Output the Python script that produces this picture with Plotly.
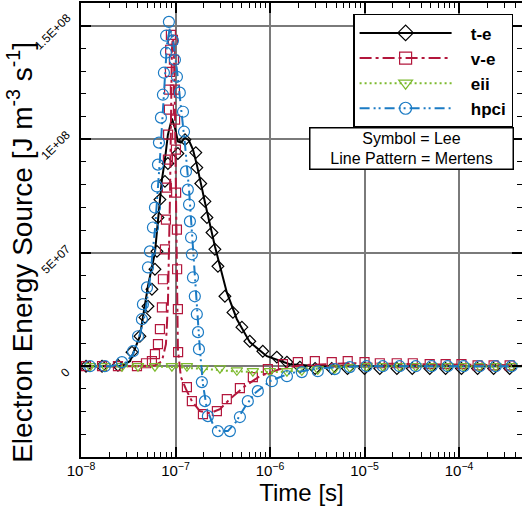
import plotly.graph_objects as go

# ---------------- data ----------------
series_names = ["t-e", "v-e", "eii", "hpci"]

# Mertens (lines)
te_line_t = [1.0e-8, 2.03e-8, 2.58e-8, 3.30e-8, 4.20e-8, 5.11e-8, 6.06e-8, 7.18e-8, 7.73e-8, 8.31e-8, 9.16e-8,
             9.86e-8, 1.06e-7, 1.14e-7, 1.26e-7, 1.39e-7, 1.53e-7, 1.68e-7, 1.81e-7, 2.05e-7, 2.61e-7, 3.49e-7,
             4.46e-7, 6.11e-7, 9.25e-7, 1.62e-6, 3.36e-6, 4.59e-4]
te_line_y = [0, 0, 0, 0.22e7, 1.32e7, 3.52e7, 5.01e7, 8.22e7, 9.10e7, 10.2e7, 10.91e7,
             10.5e7, 9.9e7, 9.85e7, 10.07e7, 9.94e7, 9.54e7, 8.88e7, 8.22e7, 7.21e7, 5.28e7, 3.25e7,
             2.07e7, 1.06e7, 0.44e7, 0.09e7, 0, 0]

ve_line_t = [1.0e-8, 4.20e-8, 6.06e-8, 7.18e-8, 7.92e-8, 8.31e-8, 8.73e-8, 8.94e-8, 9.16e-8, 9.39e-8, 9.62e-8,
             9.86e-8, 1.01e-7, 1.035e-7, 1.06e-7, 1.14e-7, 1.29e-7, 1.49e-7, 1.81e-7, 2.31e-7, 2.95e-7, 3.76e-7,
             5.42e-7, 7.80e-7, 1.27e-6, 2.07e-6, 6.98e-6, 3.84e-5, 4.59e-4]
ve_line_y = [0, 0, 0.04e7, 0.22e7, 0.97e7, 2.73e7, 7.34e7, 11.30e7, 13.94e7, 14.60e7, 13.94e7,
             11.30e7, 7.34e7, 3.39e7, 0.75e7, -0.48e7, -1.01e7, -1.54e7, -1.98e7, -2.07e7, -1.89e7, -1.45e7,
             -0.88e7, -0.44e7, -0.13e7, 0.04e7, 0.13e7, 0.09e7, 0.04e7]

eii_line_t = [1.0e-8, 5.0e-8, 1.0e-7, 1.5e-7, 2.5e-7, 4.0e-7, 7.0e-7, 1.2e-6, 2.0e-6, 3.5e-6, 6.0e-6, 1.0e-5, 4.59e-4]
eii_line_y = [0, 0, -0.04e7, -0.08e7, -0.15e7, -0.22e7, -0.26e7, -0.26e7, -0.20e7, -0.09e7, -0.02e7, 0, 0]

hp_line_t = [1.0e-8, 2.03e-8, 2.92e-8, 3.55e-8, 4.20e-8, 4.75e-8, 5.36e-8, 6.06e-8, 6.84e-8, 7.54e-8, 8.11e-8,
             8.73e-8, 9.39e-8, 1.035e-7, 1.14e-7, 1.26e-7, 1.39e-7, 1.53e-7, 1.68e-7, 1.81e-7, 1.95e-7, 2.15e-7,
             2.48e-7, 2.95e-7, 3.58e-7, 4.35e-7, 5.42e-7, 6.90e-7, 9.95e-7, 1.62e-6, 3.36e-6, 8.89e-6, 4.59e-4]
hp_line_y = [0, 0, 0.13e7, 0.53e7, 1.41e7, 2.29e7, 3.83e7, 6.02e7, 9.10e7, 12.18e7, 14.16e7,
             14.91e7, 14.38e7, 13.06e7, 11.52e7, 9.76e7, 7.78e7, 5.15e7, 2.51e7, 0.75e7, -0.79e7, -1.89e7,
             -2.55e7, -2.86e7, -2.86e7, -2.46e7, -1.80e7, -1.19e7, -0.66e7, -0.31e7, -0.09e7, 0, 0]

# Lee (symbols)
te_sym_t = [1.13e-8, 1.67e-8, 2.46e-8, 3.46e-8, 4.20e-8, 4.75e-8, 5.11e-8, 5.63e-8, 6.06e-8, 6.36e-8, 6.52e-8,
            6.84e-8, 7.73e-8, 8.31e-8, 1.06e-7, 1.26e-7, 1.64e-7, 1.68e-7, 1.85e-7, 2.05e-7, 2.15e-7, 2.43e-7,
            2.61e-7, 2.81e-7, 3.33e-7, 4.05e-7, 5.04e-7, 6.11e-7, 8.39e-7, 1.18e-6, 1.51e-6, 2.07e-6, 3.0e-6,
            4.5e-6, 6.6e-6, 1.0e-5, 1.45e-5, 2.2e-5, 3.2e-5, 4.9e-5, 7.2e-5, 1.06e-4, 1.57e-4, 2.32e-4, 3.43e-4]
te_sym_y = [0, 0, 0.04e7, 0.62e7, 1.32e7, 2.15e7, 2.64e7, 3.39e7, 4.27e7, 5.06e7, 6.55e7,
            7.34e7, 8.14e7, 8.93e7, 9.37e7, 9.98e7, 9.41e7, 8.75e7, 8.05e7, 7.26e7, 6.55e7, 5.89e7,
            5.15e7, 4.40e7, 3.08e7, 2.37e7, 1.72e7, 1.10e7, 0.66e7, 0.40e7, 0.18e7, -0.04e7, -0.1e7,
            -0.1e7, -0.1e7, -0.1e7, -0.1e7, -0.1e7, -0.1e7, -0.1e7, -0.1e7, -0.1e7, -0.1e7, -0.1e7, -0.1e7]

ve_sym_t = [1.13e-8, 1.67e-8, 2.46e-8, 3.91e-8, 4.87e-8, 5.63e-8, 6.06e-8, 6.52e-8, 6.84e-8, 7.18e-8, 7.36e-8,
            7.73e-8, 7.92e-8, 8.11e-8, 8.31e-8, 8.35e-8, 8.51e-8, 8.55e-8, 8.73e-8, 8.78e-8, 8.94e-8, 9.39e-8,
            9.62e-8, 9.86e-8, 9.90e-8, 1.01e-7, 1.015e-7, 1.035e-7, 1.04e-7, 1.06e-7, 1.065e-7, 1.32e-7, 1.49e-7,
            1.95e-7, 2.74e-7, 3.49e-7, 4.80e-7, 6.58e-7, 9.48e-7, 1.37e-6, 1.97e-6, 2.98e-6, 4.50e-6, 6.64e-6,
            1.00e-5, 1.45e-5, 2.19e-5, 3.24e-5, 4.89e-5, 7.21e-5, 1.06e-4, 1.57e-4, 2.32e-4, 3.43e-4]
ve_sym_y = [0, 0, 0, 0, 0.13e7, 0.22e7, 0.53e7, 0.97e7, 1.63e7, 2.59e7, 3.83e7,
            5.15e7, 6.46e7, 7.87e7, 9.10e7, 10.20e7, 11.30e7, 12.18e7, 12.97e7, 13.94e7, 14.60e7, 14.38e7,
            13.50e7, 12.18e7, 10.86e7, 9.54e7, 7.65e7, 6.02e7, 4.27e7, 2.51e7, 0.62e7, -0.92e7, -1.54e7,
            -2.11e7, -1.98e7, -1.45e7, -0.97e7, -0.48e7, -0.13e7, 0.09e7, 0.18e7, 0.22e7, 0.18e7, 0.22e7,
            0.18e7, 0.13e7, 0.13e7, 0.13e7, 0.09e7, 0.09e7, 0.09e7, 0.04e7, 0.04e7, 0.04e7]

eii_sym_t = [1.245e-8, 1.79e-8, 2.71e-8, 4.01e-8, 6.06e-8, 9.16e-8, 1.32e-7, 1.95e-7, 2.95e-7, 4.46e-7, 6.58e-7,
             9.95e-7, 1.51e-6, 2.17e-6, 3.20e-6, 4.84e-6, 6.98e-6, 1.05e-5, 1.56e-5, 2.35e-5, 3.48e-5, 5.13e-5,
             7.57e-5, 1.12e-4, 1.65e-4, 2.44e-4, 3.60e-4]
eii_sym_y = [0, 0, 0, 0, 0, 0, 0, -0.09e7, -0.09e7, -0.18e7, -0.22e7,
             -0.22e7, -0.22e7, -0.18e7, -0.13e7, -0.09e7, -0.04e7, 0, 0, 0, 0, 0,
             0, 0, 0, 0, 0]

hp_sym_t = [1.245e-8, 1.79e-8, 2.71e-8, 3.55e-8, 4.01e-8, 4.41e-8, 4.52e-8, 4.99e-8, 5.11e-8, 5.36e-8, 5.77e-8,
            6.06e-8, 6.36e-8, 6.52e-8, 6.68e-8, 7.01e-8, 7.36e-8, 7.54e-8, 7.92e-8, 7.95e-8, 8.51e-8, 9.39e-8,
            9.86e-8, 1.035e-7, 1.11e-7, 1.20e-7, 1.23e-7, 1.29e-7, 1.35e-7, 1.39e-7, 1.42e-7, 1.46e-7, 1.49e-7,
            1.53e-7, 1.60e-7, 1.68e-7, 1.73e-7, 1.77e-7, 1.90e-7, 2.05e-7, 2.20e-7, 2.81e-7, 3.76e-7, 4.80e-7,
            5.82e-7, 7.43e-7, 1.045e-6, 1.51e-6, 2.17e-6, 3.20e-6, 4.84e-6, 6.98e-6, 1.05e-5, 1.56e-5, 2.35e-5,
            3.48e-5, 5.13e-5, 7.57e-5, 1.12e-4, 1.65e-4, 2.44e-4, 3.60e-4]
hp_sym_y = [0, 0, 0.18e7, 0.66e7, 1.32e7, 2.07e7, 2.73e7, 3.47e7, 4.35e7, 5.06e7, 6.11e7,
            6.99e7, 7.92e7, 8.88e7, 9.85e7, 10.95e7, 11.96e7, 12.93e7, 13.81e7, 14.56e7, 15.17e7, 14.34e7,
            13.50e7, 12.75e7, 12.05e7, 11.21e7, 10.33e7, 8.58e7, 7.78e7, 7.12e7, 6.38e7, 5.67e7, 4.93e7,
            3.91e7, 3.08e7, 2.29e7, 1.50e7, 0.75e7, -0.70e7, -1.54e7, -2.20e7, -2.86e7, -2.86e7, -2.24e7,
            -1.54e7, -1.10e7, -0.66e7, -0.44e7, -0.26e7, -0.22e7, -0.13e7, -0.04e7, 0, 0, 0,
            0, 0, 0, 0, 0, 0, 0]

y_tickvals = [0, 5e7, 1e8, 1.5e8]
y_ticktext = ["0", "5E+07", "1E+08", "1.5E+08"]

# ---------------- styles ----------------
colors = ["#000000", "#B3173C", "#7DBA2E", "#1B7BC4"]
dashes = ["solid", "12px,4px,3px,4px", "2px,3px", "10px,4px,2px,3px,2px,4px"]
symbols = ["diamond-open", "square-open", "triangle-down-open", "circle-open"]
msizes = [9, 9, 10, 11]

lines = [(te_line_t, te_line_y), (ve_line_t, ve_line_y), (eii_line_t, eii_line_y), (hp_line_t, hp_line_y)]
syms = [(te_sym_t, te_sym_y), (ve_sym_t, ve_sym_y), (eii_sym_t, eii_sym_y), (hp_sym_t, hp_sym_y)]

FONT = "Liberation Sans, Arial, sans-serif"
YR = [-4e7, 1.6e8]
fig = go.Figure()

for i, name in enumerate(series_names):
    lt, ly = lines[i]
    st, sy = syms[i]
    fig.add_trace(go.Scatter(x=lt, y=ly, mode="lines", showlegend=False,
                             line=dict(color=colors[i], width=2, dash=dashes[i])))
    fig.add_trace(go.Scatter(x=st, y=sy, mode="markers", showlegend=False,
                             marker=dict(symbol=symbols[i], size=msizes[i], color=colors[i],
                                         line=dict(color=colors[i], width=1.2))))

for i, name in enumerate(series_names):
    fig.add_trace(go.Scatter(x=[None], y=[None], mode="lines+markers",
                             name="&nbsp;&nbsp;&nbsp;<b>%s</b>" % name,
                             line=dict(color=colors[i], width=2, dash=dashes[i]),
                             marker=dict(symbol=symbols[i], size=12, color=colors[i],
                                         line=dict(color=colors[i], width=1.2))))

# invisible helper trace so that the right-side tick axis is drawn
fig.add_trace(go.Scatter(x=[None], y=[None], yaxis="y2", showlegend=False, hoverinfo="skip"))

annotations = [
    dict(xref="paper", yref="paper", x=0.982, y=0.727, xanchor="right", yanchor="top",
         text="Symbol = Lee<br>Line Pattern = Mertens", showarrow=False,
         font=dict(size=16, family=FONT), bgcolor="white", bordercolor="black",
         borderwidth=1.5, borderpad=1, width=200, align="center"),
    dict(xref="paper", yref="paper", x=-0.138, y=0.45, xanchor="center", yanchor="middle",
         text="Electron Energy Source [J m<sup>-3</sup> s<sup>-1</sup>]", textangle=-90,
         showarrow=False, font=dict(size=28, family=FONT)),
]
# rotated y tick labels
for v, t in zip(y_tickvals, y_ticktext):
    annotations.append(dict(xref="paper", yref="y", x=-0.011, y=v, xanchor="right", yanchor="middle",
                            yshift=-6, text=t, textangle=-45, showarrow=False,
                            font=dict(size=12, family=FONT)))

fig.update_layout(
    width=522, height=510,
    margin=dict(l=81, r=0, t=3, b=53),
    paper_bgcolor="white", plot_bgcolor="white",
    font=dict(family=FONT, color="black"),
    showlegend=True,
    legend=dict(x=0.617, y=0.976, xanchor="left", yanchor="top",
                bgcolor="white", bordercolor="black", borderwidth=1.5,
                font=dict(size=17, family=FONT), itemwidth=92,
                tracegroupgap=0),
    annotations=annotations,
    yaxis2=dict(overlaying="y", side="right", range=YR, showline=False, showgrid=False, zeroline=False,
                tickvals=y_tickvals, showticklabels=False, ticks="inside", ticklen=10, tickwidth=2,
                tickcolor="black",
                minor=dict(ticks="inside", ticklen=5, tickwidth=1, tickcolor="black", dtick=1e7, showgrid=False)),
)

fig.update_xaxes(type="log", range=[-8, -3.334], dtick=1, exponentformat="power",
                 showline=True, linecolor="black", linewidth=2, mirror="ticks",
                 ticks="inside", ticklen=10, tickwidth=2, tickcolor="black",
                 tickfont=dict(size=12, family=FONT),
                 showgrid=True, gridcolor="#7a7a7a", gridwidth=1.5, zeroline=False,
                 minor=dict(ticks="inside", ticklen=5, tickwidth=1, tickcolor="black", dtick="D1", showgrid=False),
                 title=dict(text="Time [s]", font=dict(size=24, family=FONT), standoff=2))

fig.update_layout(yaxis=dict(range=YR, tickvals=y_tickvals, showticklabels=False,
                             showline=True, linecolor="black", linewidth=2, mirror=False,
                             ticks="inside", ticklen=10, tickwidth=2, tickcolor="black",
                             showgrid=True, gridcolor="#7a7a7a", gridwidth=1.5, zeroline=False,
                             minor=dict(ticks="inside", ticklen=5, tickwidth=1, tickcolor="black",
                                        dtick=1e7, showgrid=False)))

fig.write_html("out.html")
